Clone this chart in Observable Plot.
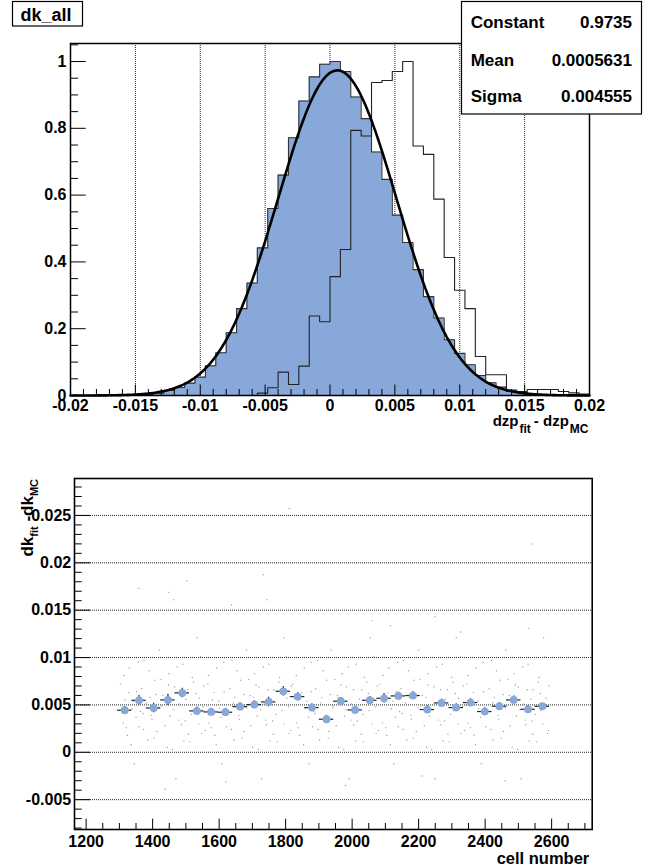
<!DOCTYPE html>
<html>
<head>
<meta charset="utf-8">
<script src="https://cdn.jsdelivr.net/npm/d3@7"></script>
<script src="https://cdn.jsdelivr.net/npm/@observablehq/plot@0.6"></script>
<style>
html,body{margin:0;padding:0;background:#fff;}
#wrap{position:relative;width:659px;height:868px;overflow:hidden;background:#fff;}
#wrap svg{position:absolute;left:0;}
</style>
</head>
<body>
<div id="wrap"></div>
<script>
// ---------------- data ----------------
const histName = "dk_all";
const statNames = ["Constant", "Mean", "Sigma"];
const statValues = ["0.9735", "0.0005631", "0.004555"];

// histogram binning: 50 bins from -0.02 to 0.02
const binStart = -0.02, binWidth = 0.0008;
const filledHist = [
  0, 0, 0, 0, 0, 0, 0.002, 0.004, 0.007, 0.015,
  0.024, 0.037, 0.055, 0.089, 0.128, 0.188, 0.260, 0.337, 0.442, 0.560,
  0.660, 0.772, 0.882, 0.954, 0.992, 1.000, 0.970, 0.894, 0.829, 0.729,
  0.647, 0.540, 0.458, 0.377, 0.296, 0.232, 0.167, 0.126, 0.092, 0.060,
  0.038, 0.025, 0.016, 0.009, 0.005, 0.003, 0.002, 0.002, 0.001, 0.001
];
const openHist = [
  0, 0, 0, 0, 0, 0, 0, 0, 0, 0,
  0, 0, 0, 0, 0, 0, 0, 0, 0.007, 0.023,
  0.070, 0.033, 0.088, 0.238, 0.221, 0.356, 0.437, 0.794, 0.777, 0.937,
  0.943, 0.970, 1.000, 0.747, 0.722, 0.588, 0.413, 0.315, 0.260, 0.117,
  0.062, 0.062, 0.012, 0.012, 0.018, 0.018, 0.018, 0.012, 0.008, 0.004
];
const topXTicks = [-0.02, -0.015, -0.01, -0.005, 0, 0.005, 0.01, 0.015, 0.02];
const topXLabels = ["-0.02", "-0.015", "-0.01", "-0.005", "0", "0.005", "0.01", "0.015", "0.02"];
const topYTicks = [0, 0.2, 0.4, 0.6, 0.8, 1];
const topYLabels = ["0", "0.2", "0.4", "0.6", "0.8", "1"];
const topYMax = 1.054;

// profile points (cell number vs mean dk)
const profCell = [1316, 1359, 1403, 1446, 1489, 1533, 1576, 1619, 1663, 1706,
                  1749, 1793, 1836, 1879, 1923, 1966, 2009, 2053, 2096, 2139,
                  2183, 2226, 2269, 2313, 2356, 2399, 2443, 2486, 2529, 2572];
const profDk = [0.00444, 0.00549, 0.00468, 0.00553, 0.00627, 0.00437, 0.00426, 0.00423, 0.00482, 0.00504,
                0.00532, 0.00644, 0.00588, 0.00472, 0.00349, 0.00539, 0.00447, 0.00549, 0.00570, 0.00595,
                0.00599, 0.00451, 0.00521, 0.00472, 0.00525, 0.00430, 0.00486, 0.00553, 0.00454, 0.00486];
const profErr = [0.0004, 0.0005, 0.0005, 0.0006, 0.0005, 0.0004, 0.0004, 0.0004, 0.0004, 0.0004,
                 0.0005, 0.0005, 0.0004, 0.0004, 0.0004, 0.0004, 0.0004, 0.0004, 0.0005, 0.0004,
                 0.0004, 0.0004, 0.0004, 0.0004, 0.0004, 0.0004, 0.0004, 0.0004, 0.0004, 0.0003];
const profBinWidth = 43.3;

// individual cells (faint scatter)
const dotCell = [
  1303,1311,1317,1324,1330,1338,1345,1352,1359,
  1371,1374,1385,1392,1398,1406,1413,1420,1427,
  1431,1444,1449,1452,1466,1470,1480,1487,1491,
  1498,1506,1512,1519,1525,1533,1540,1547,1554,
  1566,1569,1580,1587,1593,1601,1608,1615,1622,
  1626,1639,1644,1647,1661,1665,1675,1682,1686,
  1693,1701,1707,1714,1720,1728,1735,1742,1749,
  1761,1764,1775,1782,1788,1796,1803,1810,1817,
  1821,1834,1839,1842,1856,1860,1870,1877,1881,
  1888,1896,1902,1909,1915,1923,1930,1937,1944,
  1956,1959,1970,1977,1983,1991,1998,2005,2012,
  2016,2029,2034,2037,2051,2055,2065,2072,2076,
  2083,2091,2097,2104,2110,2118,2125,2132,2139,
  2151,2154,2165,2172,2178,2186,2193,2200,2207,
  2211,2224,2229,2232,2246,2250,2260,2267,2271,
  2278,2286,2292,2299,2305,2313,2320,2327,2334,
  2346,2349,2360,2367,2373,2381,2388,2395,2402,
  2406,2419,2424,2427,2441,2445,2455,2462,2466,
  2473,2481,2487,2494,2500,2508,2515,2522,2529,
  2541,2544,2555,2562,2568,2576,2583,2588,2592,
  1305,1313,1321,1328,1335,1343,1350,1357,1363,
  1367,1373,1381,1390,1396,1404,1411,1419,1425,
  1437,1442,1448,1459,1464,1474,1479,1486,1494,
  1500,1508,1516,1523,1530,1538,1545,1552,1558,
  1562,1568,1576,1585,1591,1599,1606,1614,1620,
  1632,1637,1643,1654,1659,1669,1674,1681,1689,
  1695,1703,1711,1718,1725,1733,1740,1747,1753,
  1757,1763,1771,1780,1786,1794,1801,1809,1815,
  1827,1832,1838,1849,1854,1864,1869,1876,1884,
  1890,1898,1906,1913,1920,1928,1935,1942,1948,
  1952,1958,1966,1975,1981,1989,1996,2004,2010,
  2022,2027,2033,2044,2049,2059,2064,2071,2079,
  2085,2093,2101,2108,2115,2123,2130,2137,2143,
  2147,2153,2161,2170,2176,2184,2191,2199,2205,
  2217,2222,2228,2239,2244,2254,2259,2266,2274,
  2280,2288,2296,2303,2310,2318,2325,2332,2338,
  2342,2348,2356,2365,2371,2379,2386,2394,2400,
  2412,2417,2423,2434,2439,2449,2454,2461,2469,
  2475,2483,2491,2498,2505,2513,2520,2527,2533,
  2537,2543,2551,2560,2566,2574,2581,2586,2590,
  1811,1732,1358,1503,1449,1744,1463,1637,2540,2060,2249,2531,2327,2115,
  1438,1620,1980,2210,2460
];
const dotDk = [
  0.0072,0.0031,0.0055,0.0018,0.0089,0.0046,-0.0012,0.0064,0.0027,
  0.0041,0.0097,0.0013,0.0058,0.0035,0.0076,0.0022,0.0108,0.0049,
  0.0060,0.0005,0.0083,0.0038,0.0069,-0.0028,0.0051,0.0029,0.0093,
  0.0033,0.0066,0.0011,0.0079,0.0044,0.0121,0.0057,0.0020,0.0070,
  0.0072,0.0031,0.0055,0.0018,0.0089,0.0046,-0.0012,0.0064,0.0027,
  0.0041,0.0097,0.0013,0.0058,0.0035,0.0076,0.0022,0.0108,0.0049,
  0.0060,0.0005,0.0083,0.0038,0.0069,-0.0028,0.0051,0.0029,0.0093,
  0.0033,0.0066,0.0011,0.0079,0.0044,0.0121,0.0057,0.0020,0.0070,
  0.0072,0.0031,0.0055,0.0018,0.0089,0.0046,-0.0012,0.0064,0.0027,
  0.0041,0.0097,0.0013,0.0058,0.0035,0.0076,0.0022,0.0108,0.0049,
  0.0060,0.0005,0.0083,0.0038,0.0069,-0.0028,0.0051,0.0029,0.0093,
  0.0033,0.0066,0.0011,0.0079,0.0044,0.0121,0.0057,0.0020,0.0070,
  0.0072,0.0031,0.0055,0.0018,0.0089,0.0046,-0.0012,0.0064,0.0027,
  0.0041,0.0097,0.0013,0.0058,0.0035,0.0076,0.0022,0.0108,0.0049,
  0.0060,0.0005,0.0083,0.0038,0.0069,-0.0028,0.0051,0.0029,0.0093,
  0.0033,0.0066,0.0011,0.0079,0.0044,0.0121,0.0057,0.0020,0.0070,
  0.0072,0.0031,0.0055,0.0018,0.0089,0.0046,-0.0012,0.0064,0.0027,
  0.0041,0.0097,0.0013,0.0058,0.0035,0.0076,0.0022,0.0108,0.0049,
  0.0060,0.0005,0.0083,0.0038,0.0069,-0.0028,0.0051,0.0029,0.0093,
  0.0033,0.0066,0.0011,0.0079,0.0044,0.0121,0.0057,0.0020,0.0070,
  0.0049,0.0081,0.0026,0.0063,0.0008,0.0054,0.0037,0.0095,0.0043,
  0.0067,0.0024,0.0052,0.0086,0.0039,0.0015,0.0061,0.0047,0.0077,
  0.0028,0.0058,0.0071,0.0003,0.0045,0.0090,0.0034,0.0066,0.0012,
  0.0056,0.0019,0.0040,0.0074,0.0062,0.0030,0.0101,0.0048,0.0023,
  0.0049,0.0081,0.0026,0.0063,0.0008,0.0054,0.0037,0.0095,0.0043,
  0.0067,0.0024,0.0052,0.0086,0.0039,0.0015,0.0061,0.0047,0.0077,
  0.0028,0.0058,0.0071,0.0003,0.0045,0.0090,0.0034,0.0066,0.0012,
  0.0056,0.0019,0.0040,0.0074,0.0062,0.0030,0.0101,0.0048,0.0023,
  0.0049,0.0081,0.0026,0.0063,0.0008,0.0054,0.0037,0.0095,0.0043,
  0.0067,0.0024,0.0052,0.0086,0.0039,0.0015,0.0061,0.0047,0.0077,
  0.0028,0.0058,0.0071,0.0003,0.0045,0.0090,0.0034,0.0066,0.0012,
  0.0056,0.0019,0.0040,0.0074,0.0062,0.0030,0.0101,0.0048,0.0023,
  0.0049,0.0081,0.0026,0.0063,0.0008,0.0054,0.0037,0.0095,0.0043,
  0.0067,0.0024,0.0052,0.0086,0.0039,0.0015,0.0061,0.0047,0.0077,
  0.0028,0.0058,0.0071,0.0003,0.0045,0.0090,0.0034,0.0066,0.0012,
  0.0056,0.0019,0.0040,0.0074,0.0062,0.0030,0.0101,0.0048,0.0023,
  0.0049,0.0081,0.0026,0.0063,0.0008,0.0054,0.0037,0.0095,0.0043,
  0.0067,0.0024,0.0052,0.0086,0.0039,0.0015,0.0061,0.0047,0.0077,
  0.0028,0.0058,0.0071,0.0003,0.0045,0.0090,0.0034,0.0066,0.0012,
  0.0056,0.0019,0.0040,0.0074,0.0062,0.0030,0.0101,0.0048,0.0023,
  0.02574,0.01874,0.0173,0.0181,0.01688,0.0161,0.0161,0.01558,0.02198,0.0139,0.0143,0.01308,0.0127,0.01337,
  -0.0039,-0.0031,-0.0035,-0.0025,-0.0030
];
const botXTicks = [1200, 1400, 1600, 1800, 2000, 2200, 2400, 2600];
const botXLabels = ["1200", "1400", "1600", "1800", "2000", "2200", "2400", "2600"];
const botYTicks = [-0.005, 0, 0.005, 0.01, 0.015, 0.02, 0.025];
const botYLabels = ["-0.005", "0", "0.005", "0.01", "0.015", "0.02", "0.025"];
const botXDomain = [1165, 2722];
const botYDomain = [-0.00815, 0.0289];

// ---------------- style ----------------
const FONT = '"Liberation Sans", Arial, Helvetica, sans-serif';
const BLUE = "#87a8d8";
const W = 659;
const wrap = document.getElementById("wrap");

// ---------------- top panel ----------------
const T = {h: 440, ml: 70, mr: 70, mt: 43, mb: 45};
const tIH = T.h - T.mt - T.mb, tIW = W - T.ml - T.mr;
function steps(vals) {
  const p = vals.map((v, i) => ({x: binStart + i * binWidth, v}));
  p.push({x: binStart + vals.length * binWidth, v: vals[vals.length - 1]});
  return p;
}
const blueSteps = steps(filledHist), openSteps = steps(openHist);
const fC = +statValues[0], fM = +statValues[1], fS = +statValues[2];
const xLo = topXTicks[0], xHi = topXTicks[topXTicks.length - 1];
const gauss = d3.range(0, 401).map(i => {
  const x = xLo + (xHi - xLo) * i / 400;
  return {x, v: fC * Math.exp(-0.5 * ((x - fM) / fS) ** 2)};
});
const topXMinor = d3.range(-20, 21).map(i => i / 1000).filter(v => Math.abs(Math.round(v * 200) - v * 200) > 1e-6);
const topYMinor = d3.range(0, 22).map(i => i * 0.05).filter(v => v <= topYMax && Math.abs(Math.round(v * 5) - v * 5) > 1e-6);
const topXLab = topXTicks.map((v, i) => ({v, t: topXLabels[i]}));
const topYLab = topYTicks.map((v, i) => ({v, t: topYLabels[i]}));

const topPlot = Plot.plot({
  width: W, height: T.h,
  marginLeft: T.ml, marginRight: T.mr, marginTop: T.mt, marginBottom: T.mb,
  x: {domain: [xLo, xHi], axis: null},
  y: {domain: [0, topYMax], axis: null},
  style: {fontFamily: FONT, background: "transparent", overflow: "visible", color: "#000"},
  marks: [
    Plot.ruleX(topXTicks.slice(1, -1), {x: d => d, stroke: "#222", strokeDasharray: "1,1", strokeWidth: 1}),
    Plot.area(blueSteps, {x1: "x", y1: 0, y2: "v", curve: "step-after", fill: BLUE}),
    Plot.line(blueSteps, {x: "x", y: "v", curve: "step-after", stroke: "#333", strokeWidth: 1.1}),
    Plot.line(openSteps, {x: "x", y: "v", curve: "step-after", stroke: "#222", strokeWidth: 1.1}),
    Plot.line(gauss, {x: "x", y: "v", stroke: "#000", strokeWidth: 2.6}),
    Plot.tickX(topXMinor, {x: d => d, insetTop: tIH - 6, stroke: "#000"}),
    Plot.tickX(topXTicks, {x: d => d, insetTop: tIH - 10.5, stroke: "#000"}),
    Plot.tickY(topYMinor, {y: d => d, insetRight: tIW - 8, stroke: "#000"}),
    Plot.tickY(topYTicks, {y: d => d, insetRight: tIW - 15.7, stroke: "#000"}),
    Plot.text(topXLab, {x: "v", text: "t", frameAnchor: "bottom", dy: 10, lineAnchor: "middle", fontSize: 16, fontWeight: "bold", fill: "#000"}),
    Plot.text(topYLab, {y: "v", text: "t", frameAnchor: "left", dx: -4, textAnchor: "end", fontSize: 16, fontWeight: "bold", fill: "#000"}),
    Plot.frame({stroke: "#000", strokeWidth: 1.5})
  ]
});
topPlot.style.top = "0px";
wrap.appendChild(topPlot);

// ---------------- bottom panel ----------------
const B = {top: 440, h: 428, ml: 74, mr: 67.3, mt: 38, mb: 39};
const bIH = B.h - B.mt - B.mb, bIW = W - B.ml - B.mr;
const prof = profCell.map((c, i) => ({c, dk: profDk[i], e: profErr[i]}));
const dots = dotCell.map((c, i) => ({c, dk: dotDk[i]}));
const half = profBinWidth / 2;
const botXMinor = d3.range(1150, 2751, 50).filter(v => v > botXDomain[0] && v < botXDomain[1] && v % 200 !== 0);
const botYMinor = d3.range(-8, 29).map(i => i / 1000).filter(v => Math.abs(Math.round(v * 200) - v * 200) > 1e-6);
const botXLab = botXTicks.map((v, i) => ({v, t: botXLabels[i]}));
const botYLab = botYTicks.map((v, i) => ({v, t: botYLabels[i]}));

const botPlot = Plot.plot({
  width: W, height: B.h,
  marginLeft: B.ml, marginRight: B.mr, marginTop: B.mt, marginBottom: B.mb,
  x: {domain: botXDomain, axis: null},
  y: {domain: botYDomain, axis: null},
  style: {fontFamily: FONT, background: "transparent", overflow: "visible", color: "#000"},
  marks: [
    Plot.ruleY(botYTicks, {y: d => d, stroke: "#222", strokeDasharray: "1,1", strokeWidth: 1}),
    Plot.dot(dots, {x: "c", y: "dk", r: 0.7, fill: "#a0a0a0", stroke: "none"}),
    Plot.ruleY(prof, {y: "dk", x1: d => d.c - half, x2: d => d.c + half, stroke: "#222", strokeWidth: 1.2}),
    Plot.ruleX(prof, {x: "c", y1: d => d.dk - d.e, y2: d => d.dk + d.e, stroke: "#222", strokeWidth: 1.2}),
    Plot.dot(prof, {x: "c", y: "dk", r: 3.9, fill: BLUE, stroke: "none"}),
    Plot.tickX(botXMinor, {x: d => d, insetTop: bIH - 6, stroke: "#000"}),
    Plot.tickX(botXTicks, {x: d => d, insetTop: bIH - 10.3, stroke: "#000"}),
    Plot.tickY(botYMinor, {y: d => d, insetRight: bIW - 7.7, stroke: "#000"}),
    Plot.tickY(botYTicks, {y: d => d, insetRight: bIW - 16, stroke: "#000"}),
    Plot.text(botXLab, {x: "v", text: "t", frameAnchor: "bottom", dy: 12, lineAnchor: "middle", fontSize: 16, fontWeight: "bold", fill: "#000"}),
    Plot.text(botYLab, {y: "v", text: "t", frameAnchor: "left", dx: -3.3, textAnchor: "end", fontSize: 16, fontWeight: "bold", fill: "#000"}),
    Plot.frame({stroke: "#000", strokeWidth: 1.6})
  ]
});
botPlot.style.top = B.top + "px";
wrap.appendChild(botPlot);

// ---------------- overlay: title, stats box, axis titles ----------------
const ov = d3.select(wrap).append("svg")
  .attr("width", W).attr("height", 868)
  .style("top", "0px")
  .style("font-family", FONT).style("font-weight", "bold");

ov.append("rect").attr("x", 12.5).attr("y", 1.5).attr("width", 70).attr("height", 24.5)
  .attr("fill", "#fff").attr("stroke", "#000").attr("stroke-width", 1.2);
ov.append("text").attr("x", 20.5).attr("y", 20.5).attr("font-size", 18).attr("fill", "#000").text(histName);

ov.append("rect").attr("x", 461.5).attr("y", 1.5).attr("width", 180).attr("height", 112.5)
  .attr("fill", "#fff").attr("stroke", "#000").attr("stroke-width", 1.2);
const rowBase = [28.3, 65.7, 102];
statNames.forEach((n, i) => {
  ov.append("text").attr("x", 470.7).attr("y", rowBase[i]).attr("font-size", 17).attr("fill", "#000").text(n);
  ov.append("text").attr("x", 632).attr("y", rowBase[i]).attr("text-anchor", "end").attr("font-size", 17).attr("fill", "#000").text(statValues[i]);
});

// x title of top panel
const tx = ov.append("text").attr("x", 588.5).attr("y", 426).attr("text-anchor", "end").attr("font-size", 15).attr("fill", "#000").attr("xml:space", "preserve");
tx.append("tspan").text("dzp");
tx.append("tspan").attr("font-size", 12).attr("dy", 7).attr("dx", 1).text("fit");
tx.append("tspan").attr("dy", -7).attr("dx", 3).text("- dzp");
tx.append("tspan").attr("font-size", 12).attr("dy", 7).attr("dx", 1).text("MC");

// x title of bottom panel
ov.append("text").attr("x", 589.3).attr("y", 864).attr("text-anchor", "end").attr("font-size", 16.5).attr("fill", "#000").text("cell number");

// y title of bottom panel
const ty = ov.append("text").attr("transform", "translate(33,479) rotate(-90)").attr("text-anchor", "end").attr("font-size", 17).attr("fill", "#000");
ty.append("tspan").text("dk");
ty.append("tspan").attr("font-size", 11).attr("dy", 5).text("fit");
ty.append("tspan").attr("dy", -5).text(" -dk");
ty.append("tspan").attr("font-size", 11).attr("dy", 5).text("MC");
</script>
</body>
</html>
